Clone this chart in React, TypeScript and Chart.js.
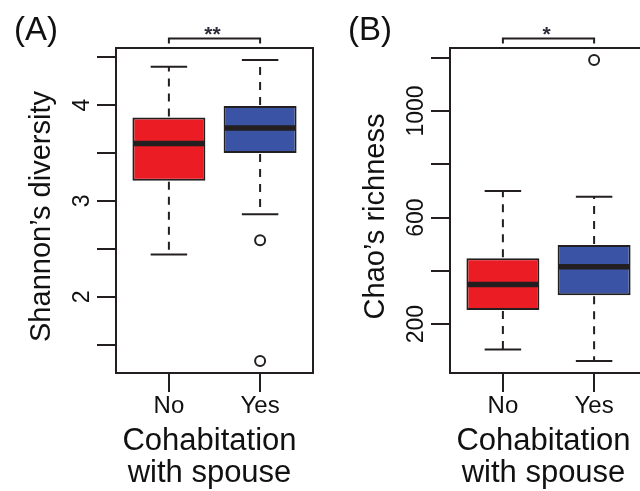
import React, { useEffect, useRef } from 'react';
import { Chart, registerables } from 'chart.js';

Chart.register(...registerables);

// ---------- data ----------
const categories = ['No', 'Yes'];
const categoryPositions = [1, 2];
const xAxisTitle = ['Cohabitation', 'with spouse'];

// Panel A: Shannon's diversity
const shannonQ1 = [3.21, 3.5];
const shannonMedian = [3.6, 3.76];
const shannonQ3 = [3.87, 3.99];
const shannonLowerWhisker = [2.44, 2.86];
const shannonUpperWhisker = [4.4, 4.47];
const shannonOutliersNo: number[] = [];
const shannonOutliersYes = [2.59, 1.33];
const shannonTicks = [1.5, 2, 2.5, 3, 3.5, 4, 4.5];
const shannonTickLabels = ['', '2', '', '3', '', '4', ''];

// Panel B: Chao's richness
const chaoQ1 = [253, 309];
const chaoMedian = [349, 415];
const chaoQ3 = [447, 497];
const chaoLowerWhisker = [105, 62];
const chaoUpperWhisker = [700, 678];
const chaoOutliersNo: number[] = [];
const chaoOutliersYes = [1191];
const chaoTicks = [200, 400, 600, 800, 1000, 1200];
const chaoTickLabels = ['200', '', '600', '', '1000', ''];

// ---------- styles ----------
const DARK = '#231F20';
const TEXT = '#111111';
const RED = '#EC1C24';
const BLUE = '#3A53A4';
const FAMILY = '"Liberation Sans", Arial, Helvetica, sans-serif';

type PanelSpec = {
  letter: string;
  yTitle: string;
  q1: number[];
  median: number[];
  q3: number[];
  lo: number[];
  hi: number[];
  outliers: number[][];
  ticks: number[];
  tickLabels: string[];
  stars: string;
};

const panelA: PanelSpec = {
  letter: '(A)',
  yTitle: 'Shannon\u2019s diversity',
  q1: shannonQ1,
  median: shannonMedian,
  q3: shannonQ3,
  lo: shannonLowerWhisker,
  hi: shannonUpperWhisker,
  outliers: [shannonOutliersNo, shannonOutliersYes],
  ticks: shannonTicks,
  tickLabels: shannonTickLabels,
  stars: '**',
};

const panelB: PanelSpec = {
  letter: '(B)',
  yTitle: 'Chao\u2019s richness',
  q1: chaoQ1,
  median: chaoMedian,
  q3: chaoQ3,
  lo: chaoLowerWhisker,
  hi: chaoUpperWhisker,
  outliers: [chaoOutliersNo, chaoOutliersYes],
  ticks: chaoTicks,
  tickLabels: chaoTickLabels,
  stars: '*',
};

function makePlugin(p: PanelSpec) {
  return {
    id: 'boxExtras',
    afterDatasetsDraw(chart: any) {
      const { ctx, chartArea: ca } = chart;
      const xs = chart.scales.x;
      const ys = chart.scales.y;
      const meta = chart.getDatasetMeta(0);
      ctx.save();
      ctx.strokeStyle = DARK;
      ctx.lineCap = 'butt';
      const line = (x1: number, y1: number, x2: number, y2: number) => {
        ctx.beginPath();
        ctx.moveTo(x1, y1);
        ctx.lineTo(x2, y2);
        ctx.stroke();
      };
      categoryPositions.forEach((pos, i) => {
        const bar = meta.data[i];
        const cx = xs.getPixelForValue(pos);
        const half = bar.width / 2;
        const yQ1 = ys.getPixelForValue(p.q1[i]);
        const yQ3 = ys.getPixelForValue(p.q3[i]);
        const yLo = ys.getPixelForValue(p.lo[i]);
        const yHi = ys.getPixelForValue(p.hi[i]);
        const yMed = ys.getPixelForValue(p.median[i]);
        // dashed whiskers
        ctx.setLineDash([8, 7]);
        ctx.lineWidth = 2;
        line(cx, yQ3 - 1, cx, yHi);
        line(cx, yQ1 + 1, cx, yLo);
        ctx.setLineDash([]);
        // caps
        ctx.lineWidth = 2;
        line(cx - half / 2, yHi, cx + half / 2, yHi);
        line(cx - half / 2, yLo, cx + half / 2, yLo);
        // median
        ctx.lineWidth = 5.5;
        line(cx - half + 1, yMed, cx + half - 1, yMed);
      });
      // frame
      ctx.lineWidth = 2;
      ctx.strokeRect(ca.left, ca.top, ca.right - ca.left, ca.bottom - ca.top);

      // y tick labels (rotated, R style)
      ctx.fillStyle = TEXT;
      ctx.font = `23px ${FAMILY}`;
      ctx.textAlign = 'center';
      ctx.textBaseline = 'middle';
      p.ticks.forEach((v, i) => {
        const label = p.tickLabels[i];
        if (!label) return;
        ctx.save();
        ctx.translate(ca.left - 33.5, ys.getPixelForValue(v));
        ctx.rotate(-Math.PI / 2);
        ctx.fillText(label, 0, 0);
        ctx.restore();
      });

      // y axis title (rotated)
      ctx.font = `29px ${FAMILY}`;
      ctx.save();
      ctx.translate(ca.left - 74, (ca.top + ca.bottom) / 2 + 6);
      ctx.rotate(-Math.PI / 2);
      ctx.fillText(p.yTitle, 0, 0);
      ctx.restore();

      // x axis title (two lines)
      ctx.font = `31px ${FAMILY}`;
      ctx.textAlign = 'center';
      ctx.textBaseline = 'middle';
      const tx = (ca.left + ca.right) / 2 - 5;
      xAxisTitle.forEach((t, i) => ctx.fillText(t, tx, 441 + i * 32.5));

      // significance bracket
      const x1 = xs.getPixelForValue(categoryPositions[0]);
      const x2 = xs.getPixelForValue(categoryPositions[1]);
      const yb = ca.top - 9.5;
      ctx.lineWidth = 2;
      ctx.beginPath();
      ctx.moveTo(x1, yb + 5);
      ctx.lineTo(x1, yb);
      ctx.lineTo(x2, yb);
      ctx.lineTo(x2, yb + 5);
      ctx.stroke();
      ctx.fillStyle = '#2b2b3a';
      ctx.font = `bold 21px ${FAMILY}`;
      ctx.textAlign = 'center';
      ctx.textBaseline = 'alphabetic';
      ctx.fillText(p.stars, (x1 + x2) / 2 - 2, 41);

      // panel letter
      ctx.fillStyle = TEXT;
      ctx.font = `33px ${FAMILY}`;
      ctx.textAlign = 'left';
      ctx.textBaseline = 'middle';
      ctx.fillText(p.letter, 14, 31);
      ctx.restore();
    },
  };
}

function buildConfig(p: PanelSpec): any {
  const all = [...p.lo, ...p.hi, ...p.outliers.flat()];
  const dMin = Math.min(...all);
  const dMax = Math.max(...all);
  const pad = (dMax - dMin) * 0.04;
  const outlierPoints: { x: number; y: number }[] = [];
  p.outliers.forEach((arr, i) => arr.forEach((v) => outlierPoints.push({ x: categoryPositions[i], y: v })));

  return {
    type: 'bar',
    data: {
      datasets: [
        {
          type: 'bar',
          data: categoryPositions.map((x, i) => ({ x, y: [p.q1[i], p.q3[i]] })),
          backgroundColor: [RED, BLUE],
          borderColor: DARK,
          borderWidth: 2,
          borderSkipped: false,
          categoryPercentage: 0.8,
          barPercentage: 1,
          grouped: false,
        },
        {
          type: 'scatter',
          data: outlierPoints,
          pointRadius: 5,
          pointBorderWidth: 2,
          pointBorderColor: DARK,
          pointBackgroundColor: 'rgba(255,255,255,0)',
          pointStyle: 'circle',
        },
      ],
    },
    options: {
      animation: false,
      responsive: false,
      devicePixelRatio: 1,
      events: [],
      layout: { padding: { top: 48, right: 5.5, left: 0, bottom: 0 } },
      plugins: {
        legend: { display: false },
        tooltip: { enabled: false },
        title: { display: false },
      },
      scales: {
        x: {
          type: 'linear',
          min: 0.42,
          max: 2.58,
          offset: false,
          border: { display: false },
          grid: {
            display: true,
            drawOnChartArea: false,
            drawTicks: true,
            tickLength: 19,
            color: DARK,
            tickColor: DARK,
            tickWidth: 2,
            lineWidth: 2,
            offset: false,
          },
          afterBuildTicks: (s: any) => {
            s.ticks = categoryPositions.map((v) => ({ value: v }));
          },
          ticks: {
            autoSkip: false,
            maxRotation: 0,
            minRotation: 0,
            padding: 1,
            color: TEXT,
            font: { family: FAMILY, size: 24, lineHeight: 1.15 },
            callback: (v: any) => categories[categoryPositions.indexOf(Number(v))],
          },
          title: { display: false },
          afterFit: (s: any) => {
            s.height = 118;
          },
        },
        y: {
          type: 'linear',
          min: dMin - pad,
          max: dMax + pad,
          beginAtZero: false,
          border: { display: false },
          grid: {
            display: true,
            drawOnChartArea: false,
            drawTicks: true,
            tickLength: 19,
            color: DARK,
            tickColor: DARK,
            tickWidth: 2,
            lineWidth: 2,
          },
          afterBuildTicks: (s: any) => {
            s.ticks = p.ticks.map((v) => ({ value: v }));
          },
          ticks: { display: false },
          title: { display: false },
          afterFit: (s: any) => {
            s.width = 116;
          },
        },
      },
    },
    plugins: [makePlugin(p)],
  };
}

function Panel({ spec, left }: { spec: PanelSpec; left: number }) {
  const ref = useRef<HTMLCanvasElement>(null);
  useEffect(() => {
    if (!ref.current) return;
    const chart = new Chart(ref.current, buildConfig(spec));
    return () => chart.destroy();
  }, [spec]);
  return (
    <canvas
      ref={ref}
      width={320}
      height={491}
      style={{ position: 'absolute', left, top: 0, width: 320, height: 491, display: 'block' }}
    />
  );
}

export default function App() {
  return (
    <div
      style={{
        position: 'fixed',
        left: 0,
        top: 0,
        width: 640,
        height: 491,
        overflow: 'hidden',
        background: '#ffffff',
      }}
    >
      <Panel spec={panelA} left={0} />
      <Panel spec={panelB} left={334} />
    </div>
  );
}
